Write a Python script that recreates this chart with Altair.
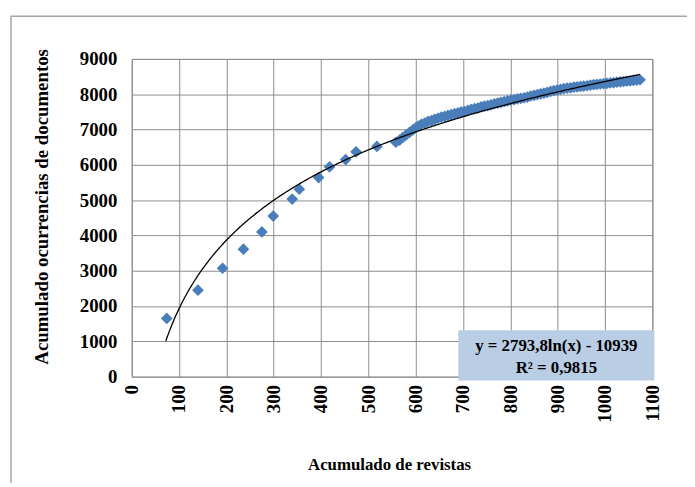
import altair as alt
import pandas as pd

# Cumulative journals (x) and cumulative document occurrences (y)
journals = [74, 140, 192, 236, 275, 299, 339, 354, 395, 418, 452, 474, 518,
            558, 566, 573, 580, 587, 594, 600, 606, 612, 619, 626, 633, 640,
            647, 654, 661, 668, 675, 682, 689, 696, 703, 710, 717, 724, 731,
            738, 745, 752, 759, 766, 773, 780, 787, 794, 801, 808, 815, 822,
            829, 836, 843, 850, 857, 864, 871, 878, 885, 892, 899, 906, 913,
            920, 927, 934, 941, 948, 955, 962, 969, 976, 983, 990, 997, 1004,
            1011, 1018, 1025, 1032, 1039, 1046, 1053, 1060, 1067, 1074]
documents = [1650, 2450, 3070, 3610, 4100, 4550, 5030, 5310, 5640, 5940, 6150, 6370, 6520,
             6640, 6700, 6780, 6850, 6920, 6990, 7050, 7100, 7150, 7180, 7230, 7250, 7290,
             7320, 7350, 7370, 7400, 7420, 7450, 7470, 7500, 7510, 7540, 7570, 7590, 7610,
             7640, 7660, 7680, 7700, 7730, 7750, 7770, 7790, 7810, 7830, 7850, 7870, 7880,
             7900, 7920, 7950, 7970, 7990, 8010, 8030, 8050, 8080, 8100, 8120, 8140, 8160,
             8170, 8180, 8200, 8210, 8220, 8230, 8240, 8260, 8270, 8280, 8290, 8300, 8310,
             8320, 8330, 8340, 8350, 8360, 8370, 8380, 8390, 8400, 8410]

# Logarithmic trend line coefficients shown on the chart, and its x range
TREND_SLOPE = 2793.8
TREND_INTERCEPT = -10939
TREND_START = 72
TREND_END = 1076

x_ticks = list(range(0, 1101, 100))
y_ticks = list(range(0, 9001, 1000))

x_title = "Acumulado de revistas"
y_title = "Acumulado ocurrencias de documentos"
equation_text = "y = 2793,8ln(x) - 10939"
r2_text = "R² = 0,9815"

FONT = "Liberation Serif"

df = pd.DataFrame({"x": journals, "y": documents})
one = pd.DataFrame({"k": [0]})


def x_enc(field):
    return alt.X(field, type="quantitative", scale=alt.Scale(domain=[0, 1100], nice=False),
                 axis=alt.Axis(values=x_ticks, title=x_title, labelAngle=270,
                               labelPadding=8, titleX=260, titleY=89, format="d",
                               titleBaseline="middle", titleFontSize=17))


def y_enc(field):
    return alt.Y(field, type="quantitative", scale=alt.Scale(domain=[0, 9000], nice=False),
                 axis=alt.Axis(values=y_ticks, title=y_title, labelPadding=15, format="d",
                               titleX=-91, titleY=149, titleAngle=270,
                               titleAlign="center", titleBaseline="middle",
                               titleFontSize=19))


frame = alt.Chart(one).mark_rect(fillOpacity=0, stroke="#a6a6a6", strokeWidth=1.5).encode(
    x=alt.value(-122), x2=alt.value(700), y=alt.value(-43), y2=alt.value(600))

points = alt.Chart(df).mark_point(shape="diamond", filled=True, size=140,
                                  color="#4a7ebb", opacity=1).encode(x=x_enc("x"), y=y_enc("y"))

trend = alt.Chart(alt.sequence(TREND_START, TREND_END, 2, as_="x")).transform_calculate(
    trend=f"{TREND_SLOPE}*log(datum.x) + ({TREND_INTERCEPT})"
).mark_line(color="#000000", strokeWidth=1.3).encode(
    x=x_enc("x"), y=y_enc("trend"))

box = alt.Chart(one).mark_rect(fill="#b9cde5").encode(
    x=alt.value(330), x2=alt.value(528), y=alt.value(274), y2=alt.value(325))

eq1 = alt.Chart(one).mark_text(text=equation_text, font=FONT, fontWeight="bold",
                               fontSize=17, color="#000000").encode(
    x=alt.value(429), y=alt.value(290))
eq2 = alt.Chart(one).mark_text(text=r2_text, font=FONT, fontWeight="bold",
                               fontSize=17, color="#000000").encode(
    x=alt.value(429), y=alt.value(312))

chart = alt.layer(frame, points, trend, box, eq1, eq2).properties(
    width=526, height=321,
    background="#ffffff",
    autosize=alt.AutoSizeParams(type="none"),
    padding={"left": 125, "top": 49, "right": 35, "bottom": 105},
).configure_view(stroke="#8c8c8c", strokeWidth=1).configure_axis(
    grid=True, gridColor="#8c8c8c", gridWidth=1, gridOpacity=1,
    ticks=False, domain=False,
    labelFont=FONT, labelFontWeight="bold", labelFontSize=19, labelColor="#000000",
    titleFont=FONT, titleFontWeight="bold", titleColor="#000000",
)

chart.save("out.html", embed_options={"renderer": "svg", "actions": False})
